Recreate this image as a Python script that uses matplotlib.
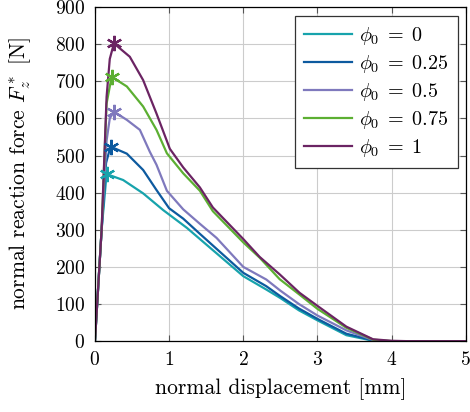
import matplotlib
matplotlib.use('Agg')
import matplotlib.pyplot as plt

plt.rcParams['font.family'] = 'cmr10'
plt.rcParams['mathtext.fontset'] = 'cm'
plt.rcParams['axes.formatter.use_mathtext'] = True
plt.rcParams['font.size'] = 14

labels = [r'$\phi_0 \;=\; 0$', r'$\phi_0 \;=\; 0.25$', r'$\phi_0 \;=\; 0.5$',
          r'$\phi_0 \;=\; 0.75$', r'$\phi_0 \;=\; 1$']
colors = ['#17a3ac', '#0d5a9f', '#7f79bd', '#5caf32', '#6b2463']

x0 = [0, 0.09, 0.157, 0.38, 0.65, 0.92, 1.24, 1.415, 2.0, 2.31, 2.5, 2.75, 3.0, 3.39, 3.75, 3.85, 5.0]
y0 = [0, 300, 450, 434, 398, 353, 305, 275, 175, 139, 116, 83, 56, 16, 1, 0, 0]
x1 = [0, 0.09, 0.15, 0.21, 0.43, 0.65, 0.83, 1.0, 1.19, 1.415, 2.0, 2.31, 2.5, 2.75, 3.0, 3.39, 3.75, 3.85, 5.0]
y1 = [0, 300, 480, 524, 505, 461, 407, 358, 330, 289, 184, 148, 121, 88, 60, 20, 2, 0, 0]
x2 = [0, 0.09, 0.157, 0.2, 0.256, 0.43, 0.606, 0.74, 0.83, 0.97, 1.19, 1.415, 1.64, 2.0, 2.31, 2.5, 2.75, 3.0, 3.39, 3.75, 3.9, 5.0]
y2 = [0, 300, 540, 600, 618, 596, 569, 510, 475, 405, 355, 316, 278, 200, 166, 136, 100, 69, 29, 3, 0, 0]
x3 = [0, 0.09, 0.157, 0.225, 0.43, 0.65, 0.83, 0.97, 1.19, 1.415, 1.59, 2.0, 2.22, 2.49, 2.76, 3.0, 3.39, 3.75, 4.0, 5.0]
y3 = [0, 300, 640, 712, 686, 632, 569, 506, 452, 405, 350, 266, 225, 167, 125, 87, 36, 4, 0, 0]
x4 = [0, 0.09, 0.157, 0.2, 0.256, 0.47, 0.65, 0.83, 1.01, 1.19, 1.415, 1.59, 2.0, 2.22, 2.49, 2.76, 3.0, 3.39, 3.75, 4.0, 4.2, 5.0]
y4 = [0, 300, 658, 760, 802, 766, 703, 613, 518, 468, 414, 360, 275, 227, 180, 130, 95, 39, 5, 1, 0, 0]

peak_x = [0.157, 0.21, 0.256, 0.225, 0.256]
peak_y = [450, 524, 618, 712, 802]

fig = plt.figure(figsize=(4.7, 4.12), dpi=100)
ax = fig.add_axes([0.202, 0.172, 0.789, 0.811])

series = [(x0, y0), (x1, y1), (x2, y2), (x3, y3), (x4, y4)]
for (xs, ys), c, lab in zip(series, colors, labels):
    ax.plot(xs, ys, color=c, lw=1.6, label=lab)
for px, py, c in zip(peak_x, peak_y, colors):
    ax.plot(px, py, marker=(6, 2, 0), ms=11, mew=1.6, color=c, ls='none')

ax.set_xlim(0, 5)
ax.set_ylim(0, 900)
ax.set_xticks(range(0, 6))
ax.set_yticks(range(0, 901, 100))
ax.grid(True, color='#cccccc', lw=0.8)
ax.set_axisbelow(True)
ax.tick_params(direction='in', top=True, right=True, length=4, color='#555555', pad=7)
for s in ax.spines.values():
    s.set_linewidth(0.9)
ax.set_xlabel('normal displacement [mm]', fontsize=15.5)
ax.set_ylabel(r'normal reaction force $F_z^*$ [N]', fontsize=15.5)
ax.xaxis.set_label_coords(0.5, -0.11)
ax.yaxis.set_label_coords(-0.167, 0.5)

leg = ax.legend(loc='upper right', bbox_to_anchor=(0.978, 0.973), borderaxespad=0,
                fancybox=False, edgecolor='#333333', framealpha=1, handlelength=2.4,
                handletextpad=0.35, borderpad=0.45, labelspacing=0.3, fontsize=14.5)
leg.get_frame().set_linewidth(0.9)

fig.savefig('out.png', dpi=100)
